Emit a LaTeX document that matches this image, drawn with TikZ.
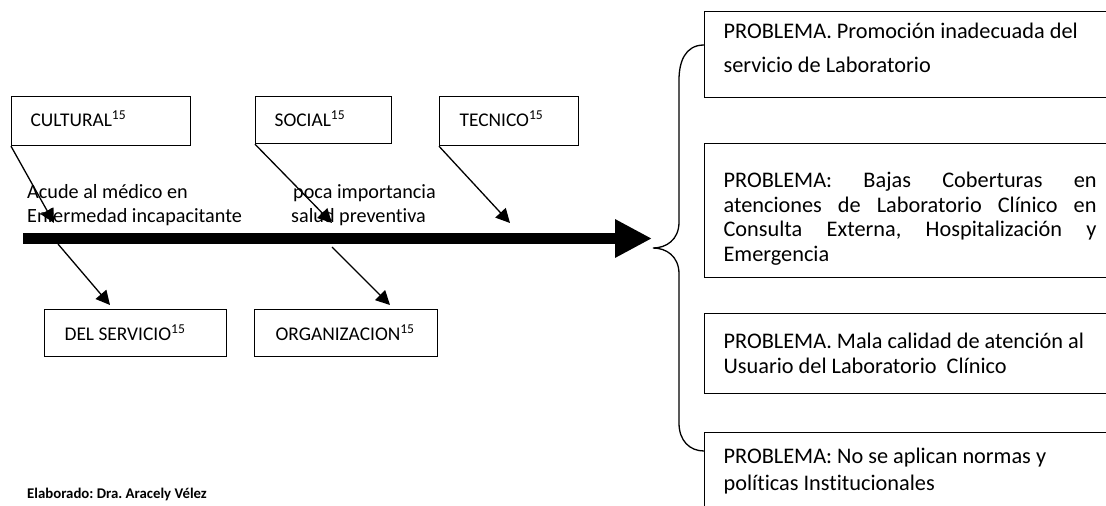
\documentclass[tikz,border=0pt]{standalone}
\usepackage{fontspec}
\setmainfont{Carlito}[Ligatures=NoCommon]
\frenchspacing
\usetikzlibrary{arrows.meta}

\tikzset{
  causebox/.style={draw,line width=1.2pt,inner xsep=19pt,inner ysep=0pt,anchor=north west,align=flush left},
  probbox/.style={draw,line width=1.2pt,inner xsep=19pt,inner ysep=0pt,anchor=north west,align=flush left,text width=373pt},
  cause/.style={line width=1.3pt,-{Triangle[length=14pt,width=14pt]}},
}

\begin{document}
\begin{tikzpicture}[x=1pt,y=-1pt,font=\fontsize{19.4}{24.5}\selectfont]
  \useasboundingbox (0,0) rectangle (1106,506);

  % causas
  \node[causebox,text width=141pt,text height=30pt,text depth=19pt] (cultural) at (11,96) {CULTURAL\textsuperscript{15}};
  \node[causebox,text width=98pt,text height=30pt,text depth=17pt] (social) at (255,96) {SOCIAL\textsuperscript{15}};
  \node[causebox,inner xsep=20pt,text width=99pt,text height=30pt,text depth=19pt] (tecnico) at (439,96) {TECNICO\textsuperscript{15}};
  \node[causebox,inner xsep=20pt,text width=142pt,text height=31pt,text depth=16pt] (servicio) at (44,309) {DEL SERVICIO\textsuperscript{15}};
  \node[causebox,inner xsep=21pt,text width=141pt,text height=31pt,text depth=16pt] (organizacion) at (254,309) {ORGANIZACION\textsuperscript{15}};

  \node[inner sep=0pt,anchor=north west,align=flush left,text width=240pt,text height=15pt,
        font=\fontsize{20.2}{24}\selectfont] (acude) at (27,183) {Acude al médico en\\Enfermedad incapacitante};
  \node[inner sep=0pt,anchor=north west,align=flush left,text width=200pt,text height=15pt,
        font=\fontsize{20.2}{24}\selectfont] (poca) at (291,183) {\hspace{2pt}poca importancia\\salud preventiva};

  % espina
  \coordinate (spine-start) at (23,238.5);
  \coordinate (spine-end) at (652,238.5);
  \draw[line width=11pt,-{Triangle[length=37pt,width=36pt]}] (spine-start) -- (spine-end);

  \coordinate (cultural-tip) at (54,223);
  \coordinate (social-tip) at (332,223);
  \coordinate (tecnico-tip) at (510,223);
  \coordinate (servicio-start) at (58,244);
  \coordinate (organizacion-start) at (332,247);
  \coordinate (servicio-tip) at (110,305);
  \coordinate (organizacion-tip) at (390,305);

  \draw[cause] (cultural.south west) -- (cultural-tip);
  \draw[cause] (social.south west) -- (social-tip);
  \draw[cause] (tecnico.south west) -- (tecnico-tip);
  \draw[cause] (servicio-start) -- (servicio-tip);
  \draw[cause] (organizacion-start) -- (organizacion-tip);

  % problemas
  \node[probbox,text height=27pt,text depth=59pt,font=\fontsize{22.3}{34}\selectfont] (prob1) at (704,11)
    {PROBLEMA. Promoción inadecuada del\\servicio de Laboratorio};
  \node[probbox,text height=44pt,text depth=90pt,font=\fontsize{22.3}{24.5}\selectfont] (prob2) at (704,143)
    {\makebox[\linewidth][l]{PROBLEMA:\hfill Bajas\hfill Coberturas\hfill en}\\
     \makebox[\linewidth][l]{atenciones\hfill de\hfill Laboratorio\hfill Clínico\hfill en}\\
     \makebox[\linewidth][l]{Consulta\hfill Externa,\hfill Hospitalización\hfill y}\\
     Emergencia};
  \node[probbox,text height=35pt,text depth=45pt,font=\fontsize{22.3}{25}\selectfont] (prob3) at (704,313)
    {PROBLEMA. Mala calidad de atención al\\Usuario del Laboratorio\ \ Clínico};
  \node[probbox,text height=31pt,text depth=60pt,font=\fontsize{22.3}{27}\selectfont] (prob4) at (704,432)
    {PROBLEMA: No se aplican normas y\\políticas Institucionales};

  % llave
  \coordinate (brace-tip) at (653,248);
  \draw[line width=1.3pt] (prob1.west |- 0,45) .. controls (685,45) and (679,62) .. (679,80)
    -- (679,222) .. controls (679,240) and (666,248) .. (brace-tip)
    .. controls (666,248) and (679,256) .. (679,274)
    -- (679,423) .. controls (679,441) and (690,451) .. (prob4.west |- 0,451);

  \node[anchor=base west,inner sep=0pt,font=\fontsize{14.8}{17}\selectfont\bfseries] (autor) at (27,498)
    {Elaborado: Dra. Aracely Vélez};
\end{tikzpicture}
\end{document}
